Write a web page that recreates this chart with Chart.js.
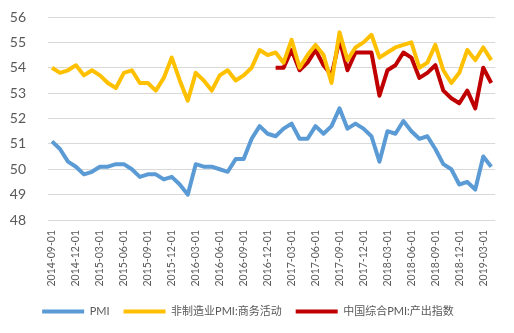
<!DOCTYPE html>
<html><head><meta charset="utf-8">
<script src="https://cdn.jsdelivr.net/npm/chart.js@4"></script>
<style>html,body{margin:0;padding:0;background:#fff}#w{width:514px;height:333px}</style>
</head><body><div id="w"><canvas id="c" width="514" height="333"></canvas></div>
<script>
const months = [
 '2014-09-01','2014-10-01','2014-11-01','2014-12-01',
 '2015-01-01','2015-02-01','2015-03-01','2015-04-01','2015-05-01','2015-06-01','2015-07-01','2015-08-01','2015-09-01','2015-10-01','2015-11-01','2015-12-01',
 '2016-01-01','2016-02-01','2016-03-01','2016-04-01','2016-05-01','2016-06-01','2016-07-01','2016-08-01','2016-09-01','2016-10-01','2016-11-01','2016-12-01',
 '2017-01-01','2017-02-01','2017-03-01','2017-04-01','2017-05-01','2017-06-01','2017-07-01','2017-08-01','2017-09-01','2017-10-01','2017-11-01','2017-12-01',
 '2018-01-01','2018-02-01','2018-03-01','2018-04-01','2018-05-01','2018-06-01','2018-07-01','2018-08-01','2018-09-01','2018-10-01','2018-11-01','2018-12-01',
 '2019-01-01','2019-02-01','2019-03-01','2019-04-01'];
const pmi = [51.1,50.8,50.3,50.1,
 49.8,49.9,50.1,50.1,50.2,50.2,50.0,49.7,49.8,49.8,49.6,49.7,
 49.4,49.0,50.2,50.1,50.1,50.0,49.9,50.4,50.4,51.2,51.7,51.4,
 51.3,51.6,51.8,51.2,51.2,51.7,51.4,51.7,52.4,51.6,51.8,51.6,
 51.3,50.3,51.5,51.4,51.9,51.5,51.2,51.3,50.8,50.2,50.0,49.4,
 49.5,49.2,50.5,50.1];
const nonMfg = [54.0,53.8,53.9,54.1,
 53.7,53.9,53.7,53.4,53.2,53.8,53.9,53.4,53.4,53.1,53.6,54.4,
 53.5,52.7,53.8,53.5,53.1,53.7,53.9,53.5,53.7,54.0,54.7,54.5,
 54.6,54.2,55.1,54.0,54.5,54.9,54.5,53.4,55.4,54.3,54.8,55.0,
 55.3,54.4,54.6,54.8,54.9,55.0,54.0,54.2,54.9,53.9,53.4,53.8,
 54.7,54.3,54.8,54.3];
const composite = [null,null,null,null,
 null,null,null,null,null,null,null,null,null,null,null,null,
 null,null,null,null,null,null,null,null,null,null,null,null,
 54.0,54.0,54.7,53.9,54.2,54.7,54.1,53.7,55.1,53.9,54.6,54.6,
 54.6,52.9,53.9,54.1,54.6,54.4,53.6,53.8,54.1,53.1,52.8,52.6,
 53.1,52.4,54.0,53.4];
const yTicks = [48,49,50,51,52,53,54,55,56];
const names = ['PMI','非制造业PMI:商务活动','中国综合PMI:产出指数'];
const colors = ['#5B9BD5','#FFC000','#C00000'];

const FONT = "Lato, 'Noto Sans CJK SC', sans-serif";
const series = [pmi, nonMfg, composite];
new Chart(document.getElementById('c'), {
  type: 'line',
  data: {
    labels: months,
    datasets: series.map((d, i) => ({
      label: names[i], data: d, borderColor: colors[i], backgroundColor: colors[i],
      borderWidth: 4, pointRadius: 0, tension: 0, fill: false,
      borderJoinStyle: 'round', borderCapStyle: 'butt', spanGaps: false
    }))
  },
  options: {
    responsive: false, animation: false,
    layout: { padding: { top: 17, right: 18, left: 0, bottom: 6 } },
    plugins: {
      tooltip: { enabled: false },
      legend: {
        position: 'bottom',
        labels: {
          font: { family: FONT, size: 11 }, color: '#595959',
          boxWidth: 42, boxHeight: 4, padding: 14,
          generateLabels: (chart) => Chart.defaults.plugins.legend.labels.generateLabels(chart).map(l => Object.assign(l, { lineWidth: 0, fillStyle: colors[l.datasetIndex] }))
        }
      }
    },
    scales: {
      x: {
        offset: true,
        grid: { display: false, drawTicks: false },
        border: { display: false },
        ticks: {
          autoSkip: false, minRotation: 90, maxRotation: 90, padding: 10,
          font: { family: FONT, size: 10.5 }, color: '#595959',
          callback: function(v, i) { return i % 3 === 0 ? months[i] : ''; }
        },
        afterFit: (s) => { s.height = 72; }
      },
      y: {
        min: 48, max: 56,
        afterBuildTicks: (s) => { s.ticks = yTicks.map(v => ({ value: v })); },
        grid: { color: '#D9D9D9', lineWidth: 1, drawTicks: false },
        border: { display: false },
        ticks: { font: { family: FONT, size: 14 }, color: '#595959', padding: 22 },
        afterFit: (s) => { s.width = 48; s.paddingTop = 0; s.paddingBottom = 0; }
      }
    }
  }
});
</script></body></html>
